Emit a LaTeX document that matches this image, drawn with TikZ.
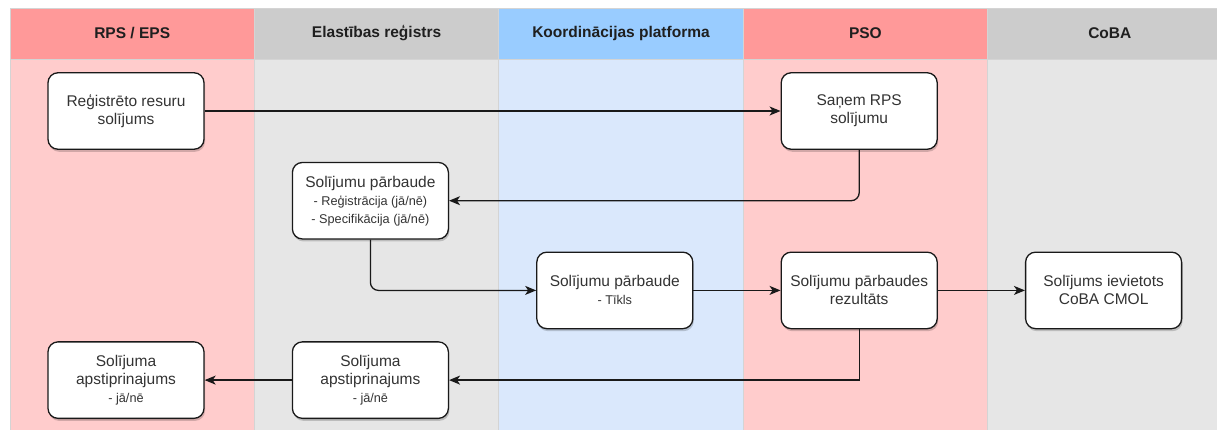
\documentclass[tikz,border=0pt]{standalone}
\usepackage{fontspec}
\setmainfont{Liberation Sans}
\usetikzlibrary{arrows.meta,shadows}
\definecolor{redhead}{HTML}{FF9999}
\definecolor{redbody}{HTML}{FFCCCC}
\definecolor{greyhead}{HTML}{CCCCCC}
\definecolor{greybody}{HTML}{E6E6E6}
\definecolor{bluehead}{HTML}{99CCFF}
\definecolor{bluebody}{HTML}{DAE8FC}
\definecolor{laneline}{HTML}{D4D4D4}
\definecolor{txt}{HTML}{333333}
\newcommand\subtxt[1]{{\fontsize{12.7}{18}\selectfont #1}}
\begin{document}
\begin{tikzpicture}[x=1pt,y=-1pt,
  lanebody/.style={draw=laneline, line width=0.8pt},
  lanehead/.style={draw=laneline, line width=0.8pt, minimum width=244.4pt, minimum height=51pt, inner sep=0pt,
    font=\fontsize{15.5}{18}\selectfont\bfseries, text=black!88},
  box/.style={draw=black!90, line width=1.3pt, fill=white, rounded corners=10pt,
    minimum width=156pt, minimum height=76.5pt, inner sep=0pt, align=center,
    font=\fontsize{15.5}{18}\selectfont, text=txt,
    drop shadow={shadow xshift=1pt, shadow yshift=-2.5pt, opacity=0.18, fill=black}},
  flow/.style={draw=black!90, line width=1.3pt, -{Stealth[length=11pt,width=9pt,inset=3pt]}}
]
\useasboundingbox (0,0) rectangle (1217,429);
\begin{scope}
\clip (0,0) rectangle (1217,429);
% lane bodies
\filldraw[lanebody, fill=redbody]  (10,59)    rectangle (254.4,440);
\filldraw[lanebody, fill=greybody] (254.4,59) rectangle (498.8,440);
\filldraw[lanebody, fill=bluebody] (498.8,59) rectangle (743.2,440);
\filldraw[lanebody, fill=redbody]  (743.2,59) rectangle (987.6,440);
\filldraw[lanebody, fill=greybody] (987.6,59) rectangle (1232,440);
% lane headers
\node[lanehead, fill=redhead]  (h1) at (132.2,33.5) {RPS / EPS};
\node[lanehead, fill=greyhead] (h2) at (376.6,33.5) {Elastības reģistrs};
\node[lanehead, fill=bluehead] (h3) at (621.0,33.5) {Koordinācijas platforma};
\node[lanehead, fill=redhead]  (h4) at (865.4,33.5) {PSO};
\node[lanehead, fill=greyhead] (h5) at (1109.8,33.5) {CoBA};
\end{scope}
% process boxes
\node[box] (reg)   at (126,111)    {Reģistrēto resuru\\solījums};
\node[box] (sanem) at (859.2,111)  {Saņem RPS\\solījumu};
\node[box] (check) at (370.4,200.7) {Solījumu pārbaude\\\subtxt{- Reģistrācija (jā/nē)}\\\subtxt{- Specifikācija (jā/nē)}};
\node[box] (tikls) at (614.8,290.4) {Solījumu pārbaude\\\subtxt{- Tīkls}};
\node[box] (rez)   at (859.2,290.4) {Solījumu pārbaudes\\rezultāts};
\node[box] (coba)  at (1103.6,290.4) {Solījums ievietots\\CoBA CMOL};
\node[box] (apstE) at (370.4,380.1) {Solījuma\\apstiprinajums\\\subtxt{- jā/nē}};
\node[box] (apstR) at (126,380.1)   {Solījuma\\apstiprinajums\\\subtxt{- jā/nē}};
% connectors
\draw[flow] (reg.east) -- (sanem.west);
\draw[flow, rounded corners=8pt] (sanem.south) |- (check.east);
\draw[flow, rounded corners=8pt] (check.south) |- (tikls.west);
\draw[flow] (tikls.east) -- (rez.west);
\draw[flow] (rez.east) -- (coba.west);
\draw[flow] (rez.south) |- (apstE.east);
\draw[flow] (apstE.west) -- (apstR.east);
\end{tikzpicture}
\end{document}
